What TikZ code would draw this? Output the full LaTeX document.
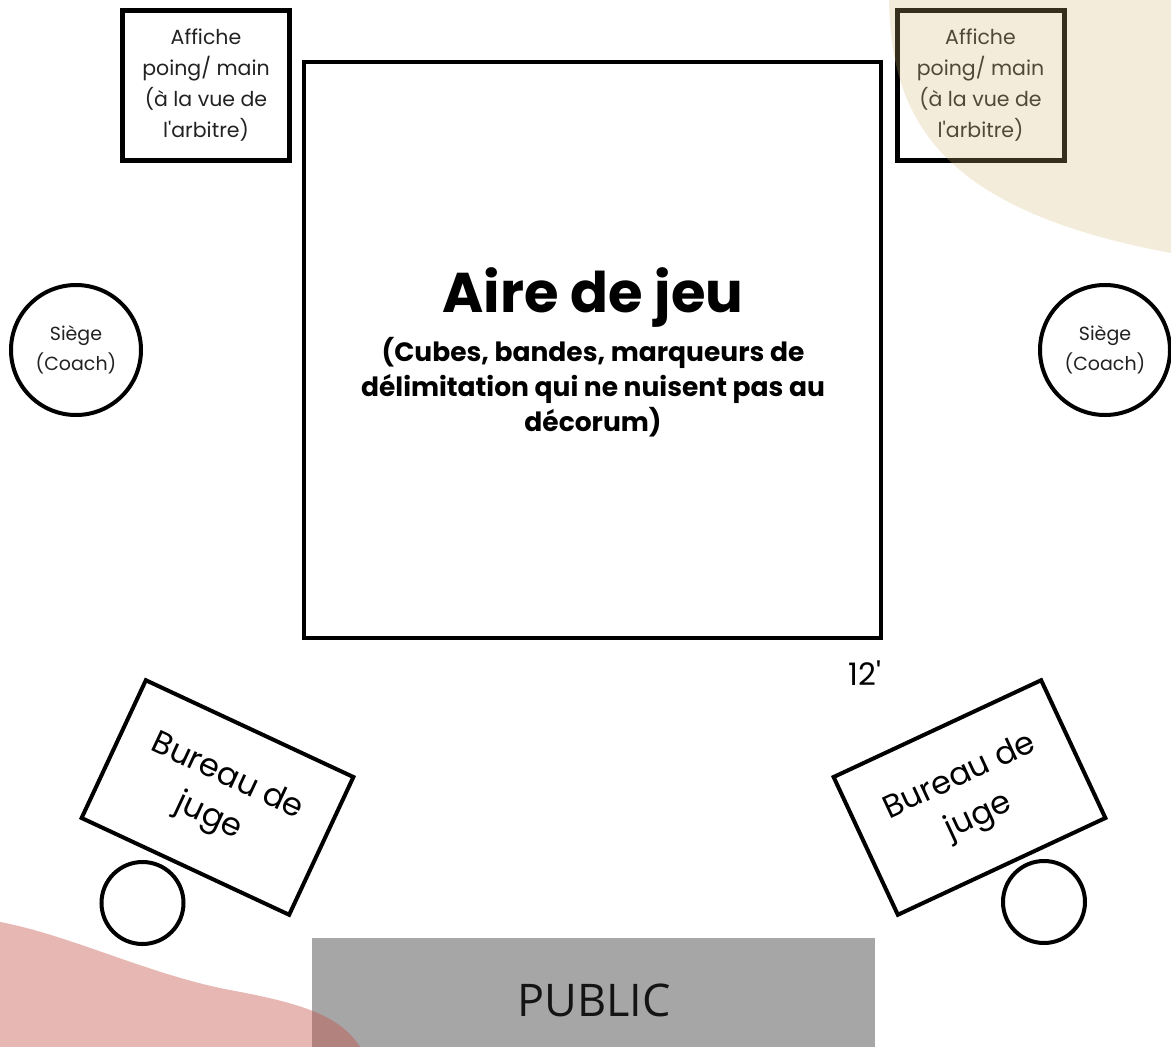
\documentclass[tikz,border=0pt]{standalone}
\usepackage{fontspec}
\setmainfont{Poppins}
\newfontfamily\pubfont{Open Sans}
\definecolor{beige}{RGB}{212,185,115}
\definecolor{rose}{RGB}{197,77,67}
\definecolor{grisbox}{RGB}{166,166,166}
\definecolor{txtgris}{RGB}{34,34,34}
\begin{document}
\begin{tikzpicture}[x=1pt,y=-1pt,
  affiche/.style={draw=black, line width=5pt, minimum width=167pt, minimum height=150pt,
    inner sep=0pt, align=center, text=txtgris, font=\fontsize{20.5}{31}\selectfont},
  siege/.style={circle, draw=black, line width=4pt, minimum size=130pt, inner sep=0pt,
    align=center, text=txtgris, font=\fontsize{19}{30}\selectfont},
  chaise/.style={circle, draw=black, line width=4pt, minimum size=82pt, inner sep=0pt},
  bureau/.style={draw=black, line width=4pt, minimum width=229pt, minimum height=152pt,
    inner sep=0pt, align=center, text=black, font=\fontsize{32}{44}\selectfont},
  aire/.style={draw=black, line width=4pt, minimum width=577pt, minimum height=576pt, inner sep=0pt},
]
\useasboundingbox (0,0) rectangle (1171,1047);
\fill[white] (0,0) rectangle (1171,1047);

% playing area
\node[aire] (aire) at (592.5,349.5) {};
\node[anchor=base, font=\bfseries\fontsize{56}{60}\selectfont] (titre) at (593,312) {Aire de jeu};
\node[align=center, font=\bfseries\fontsize{26.5}{35}\selectfont] (soustitre) at (593,387)
  {(Cubes, bandes, marqueurs de\\délimitation qui ne nuisent pas au\\décorum)};
\node[anchor=base, font=\fontsize{31}{31}\selectfont] (dim) at (865,685) {12\textquotesingle};

% posters
\node[affiche] (afficheG) at (206,85.5) {Affiche\\poing/ main\\(à la vue de\\l\textquotesingle arbitre)};
\node[affiche] (afficheD) at (980.5,85.5) {Affiche\\poing/ main\\(à la vue de\\l\textquotesingle arbitre)};

% coach seats
\node[siege] (siegeG) at (76,350) {Siège\\(Coach)};
\node[siege] (siegeD) at (1105,350) {Siège\\(Coach)};

% judges
\node[bureau, rotate=-25] (bureauG) at (217.5,797.5) {Bureau de\\juge};
\node[bureau, rotate=25] (bureauD) at (969.5,797.5) {Bureau de\\juge};
\node[chaise] (chaiseG) at (142.5,903) {};
\node[chaise] (chaiseD) at (1044,902) {};

% public
\node[fill=grisbox, minimum width=563pt, minimum height=110pt, inner sep=0pt] (public) at (593.5,993) {};
\node[anchor=base, font=\pubfont\fontsize{45}{45}\selectfont, text={rgb,255:red,20;green,20;blue,20}] (publictxt) at (594,1016) {PUBLIC};

% decorative blobs (translucent, on top)
\begin{scope}
\clip (0,0) rectangle (1171,1047);
\fill[beige, fill opacity=0.26] (889,0) .. controls (891,120) and (940,210) .. (1171,253) -- (1171,0) -- cycle;
\fill[rose, fill opacity=0.4] (0,922) .. controls (70,935) and (150,975) .. (230,990)
  .. controls (300,1003) and (340,1015) .. (360,1047) -- (0,1047) -- cycle;
\end{scope}
\end{tikzpicture}
\end{document}
